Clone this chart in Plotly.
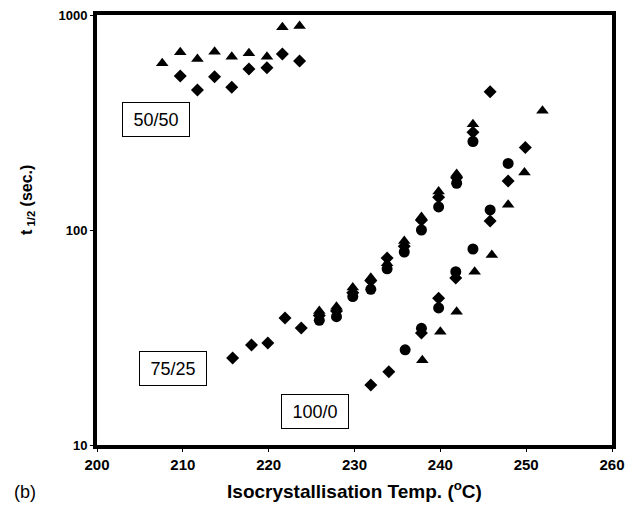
import plotly.graph_objects as go

# ---- data ----
# 50/50 blend
t5050_tri_T = [207.6, 209.7, 211.7, 213.7, 215.7, 217.7, 219.8, 221.6, 223.6]
t5050_tri_t = [596, 671, 624, 675, 640, 664, 640, 877, 889]
t5050_dia_T = [209.7, 211.7, 213.7, 215.7, 217.7, 219.8, 221.6, 223.6]
t5050_dia_t = [520, 448, 516, 461, 561, 569, 659, 611]

# 75/25 blend
t7525_dia_T = [215.8, 218.0, 219.9, 221.9, 223.8, 225.9, 227.9, 229.8, 231.9, 233.8, 235.8, 237.8, 239.8, 241.9, 243.8, 245.8]
t7525_dia_t = [25.4, 29.2, 29.8, 39.0, 35.0, 40, 42, 51, 58, 74, 84, 111, 142, 175, 285, 440]
t7525_cir_T = [225.9, 227.9, 229.8, 231.9, 233.8, 235.8, 237.8, 239.8, 241.9, 243.8]
t7525_cir_t = [38, 39.5, 49, 53, 66, 79, 100, 128, 165, 258]
t7525_tri_T = [225.9, 227.9, 229.8, 231.9, 233.8, 235.8, 237.8, 239.8, 241.9, 243.8]
t7525_tri_t = [42, 44, 54, 60, 70, 89, 115, 151, 182, 310]

# 100/0
t1000_dia_T = [231.9, 234.0, 237.8, 239.8, 241.8, 245.8, 247.9, 249.9]
t1000_dia_t = [19.0, 21.9, 33.2, 48.2, 59.8, 110, 169, 242]
t1000_cir_T = [235.9, 237.8, 239.8, 241.8, 243.8, 245.8, 247.9]
t1000_cir_t = [27.7, 34.9, 43.4, 64, 81.6, 124, 204]
t1000_tri_T = [237.9, 240.0, 241.9, 244.0, 246.0, 247.9, 249.8, 251.9]
t1000_tri_t = [24.8, 33.6, 41.7, 64, 76.5, 131, 185, 359]

x_ticks = [200, 210, 220, 230, 240, 250, 260]
y_ticks = [10, 100, 1000]
y_ticktext = ["10", "100", "1000"]
group_labels = ["50/50", "75/25", "100/0"]

FONT = "Liberation Sans, Arial, Helvetica, sans-serif"
SIZES = {"triangle-up": 11, "diamond": 10, "circle": 11}

fig = go.Figure()
series = [
    (t5050_tri_T, t5050_tri_t, "triangle-up"),
    (t5050_dia_T, t5050_dia_t, "diamond"),
    (t7525_dia_T, t7525_dia_t, "diamond"),
    (t7525_cir_T, t7525_cir_t, "circle"),
    (t7525_tri_T, t7525_tri_t, "triangle-up"),
    (t1000_dia_T, t1000_dia_t, "diamond"),
    (t1000_cir_T, t1000_cir_t, "circle"),
    (t1000_tri_T, t1000_tri_t, "triangle-up"),
]
for xs, ys, sym in series:
    fig.add_trace(go.Scatter(
        x=xs, y=ys, mode="markers",
        marker=dict(symbol=sym, size=SIZES[sym], color="black", line=dict(width=0)),
        showlegend=False, cliponaxis=False,
    ))

# boxed group labels (paper coordinates)
label_pos = [(0.1146, 0.758), (0.1476, 0.179), (0.4233, 0.079)]
for txt, (px, py) in zip(group_labels, label_pos):
    fig.add_annotation(
        x=px, y=py, xref="paper", yref="paper", text=txt, showarrow=False,
        font=dict(family=FONT, size=18, color="black"),
        bordercolor="black", borderwidth=1, borderpad=0, bgcolor="white",
        width=66, height=33, xanchor="center", yanchor="middle",
    )

# y-axis title (rotated, with subscript)
fig.add_annotation(
    x=-0.134, y=0.57, xref="paper", yref="paper",
    text="t<sub> 1/2</sub> (sec.)", showarrow=False, textangle=-90,
    font=dict(family=FONT, size=16, color="black", weight="bold"),
    xanchor="center", yanchor="middle",
)
# panel label
fig.add_annotation(
    x=-0.14, y=-0.11, xref="paper", yref="paper", text="(b)", showarrow=False,
    font=dict(family=FONT, size=18, color="black"),
    xanchor="center", yanchor="middle",
)

fig.update_xaxes(
    range=[200, 260], tickvals=x_ticks, ticks="outside", ticklen=3, tickwidth=1,
    tickcolor="black", showline=True, linewidth=4, linecolor="black", mirror=True,
    showgrid=False, zeroline=False,
    tickfont=dict(family=FONT, size=15, color="black", weight="bold"),
    title=dict(text="Isocrystallisation Temp. (<sup>o</sup>C)",
               font=dict(family=FONT, size=19, color="black", weight="bold"), standoff=14),
)
fig.update_yaxes(
    type="log", range=[1, 3], tickvals=y_ticks, ticktext=y_ticktext,
    ticks="outside", ticklen=3, tickwidth=1, tickcolor="black",
    showline=True, linewidth=4, linecolor="black", mirror=True,
    showgrid=False, zeroline=False,
    tickfont=dict(family=FONT, size=13, color="black", weight="bold"),
)
fig.update_layout(
    width=628, height=517,
    margin=dict(l=97, r=16, t=15, b=72, autoexpand=False),
    paper_bgcolor="white", plot_bgcolor="white",
)
fig.write_html("out.html")
